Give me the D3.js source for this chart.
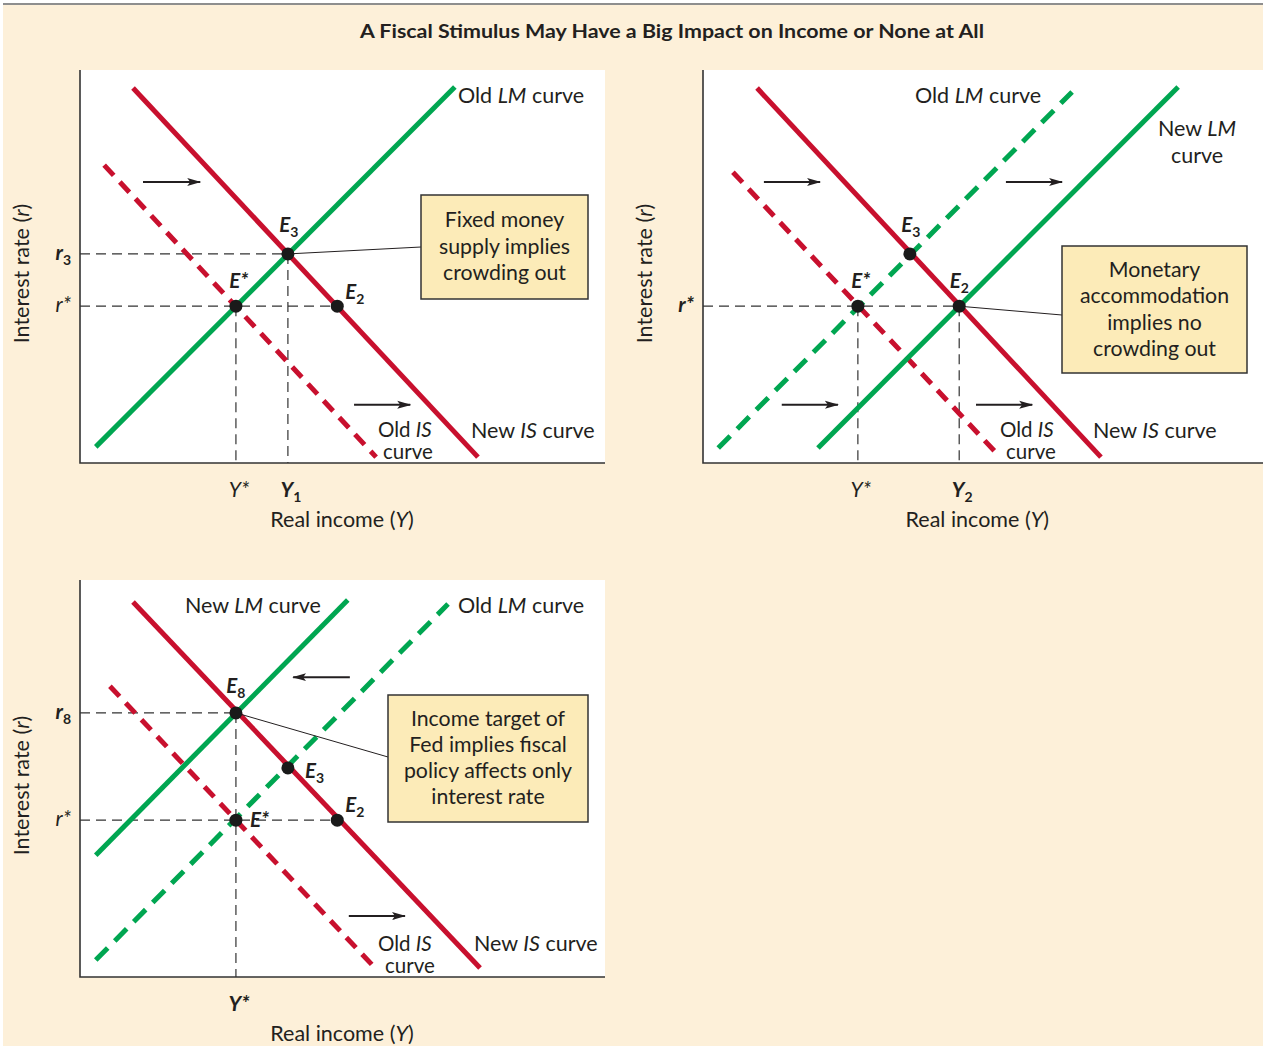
<!DOCTYPE html>
<html><head><meta charset="utf-8">
<script src="https://cdn.jsdelivr.net/npm/d3@7"></script>
<style>body{margin:0;background:#fff}text{font-family:Lato,"Open Sans",sans-serif;fill:#231f20}</style>
</head><body><svg id="c" width="1263" height="1046"></svg>
<script>
// ---------- DATA (chart units: income on x, interest rate on y) ----------
// Panel 1: fixed money supply
const p1OldIS = [[4.6, 75.8], [56.4, 1.5]];
const p1NewIS = [[10.1, 95.4], [75.8, 1.5]];
const p1OldLM = [[3.0, 4.1], [71.4, 95.7]];
const p1PointNames = ["E*", "E3", "E2"];
const p1PointX = [29.7, 39.6, 49.0];
const p1PointY = [39.9, 53.2, 39.9];
const p1RTickNames = ["r3", "r*"];
const p1RTickVals = [53.2, 39.9];
const p1YTickNames = ["Y*", "Y1"];
const p1YTickVals = [29.7, 39.6];
const p1Arrows = [[12.0, 71.5, 22.9, 71.5], [52.2, 14.8, 62.9, 14.8]];

// Panel 2: monetary accommodation
const p2OldIS = [[5.7, 74.0], [56.6, 1.5]];
const p2NewIS = [[10.3, 95.4], [75.8, 1.5]];
const p2OldLM = [[2.9, 3.8], [70.3, 94.4]];
const p2NewLM = [[21.9, 3.8], [90.5, 95.7]];
const p2PointNames = ["E*", "E3", "E2"];
const p2PointX = [29.5, 39.4, 48.8];
const p2PointY = [39.9, 53.2, 39.9];
const p2RTickNames = ["r*"];
const p2RTickVals = [39.9];
const p2YTickNames = ["Y*", "Y2"];
const p2YTickVals = [29.5, 48.8];
const p2Arrows = [[11.6, 71.5, 22.3, 71.5], [57.7, 71.5, 68.4, 71.5], [15.0, 14.8, 25.7, 14.8], [52.0, 14.8, 62.7, 14.8]];

// Panel 3: income target
const p3OldIS = [[5.7, 74.0], [56.2, 2.3]];
const p3NewIS = [[10.1, 95.4], [76.2, 2.3]];
const p3NewLM = [[3.0, 31.0], [51.0, 95.9]];
const p3OldLM = [[3.0, 4.3], [70.1, 94.9]];
const p3PointNames = ["E8", "E3", "E*", "E2"];
const p3PointX = [29.7, 39.6, 29.7, 49.0];
const p3PointY = [67.2, 53.2, 39.9, 39.9];
const p3RTickNames = ["r8", "r*"];
const p3RTickVals = [67.2, 39.9];
const p3YTickNames = ["Y*"];
const p3YTickVals = [29.7];
const p3Arrows = [[51.4, 76.3, 40.6, 76.3], [51.2, 15.5, 61.9, 15.5]];

// ---------- DRAWING ----------
const RED = "#c8102e", GREEN = "#00a651";
const svg = d3.select("#c");
svg.append("rect").attr("x", 3).attr("y", 4).attr("width", 1260).attr("height", 1042).attr("fill", "#fdf0d9");
svg.append("line").attr("x1", 3).attr("x2", 1263).attr("y1", 4).attr("y2", 4).attr("stroke", "#8e8e8e").attr("stroke-width", 2);
svg.append("text").attr("x", 672).attr("y", 38).attr("text-anchor", "middle")
  .attr("font-size", 19).attr("font-weight", "bold")
  .attr("textLength", 624).attr("lengthAdjust", "spacingAndGlyphs")
  .text("A Fiscal Stimulus May Have a Big Impact on Income or None at All");

const defs = svg.append("defs");
defs.append("marker").attr("id", "arr").attr("viewBox", "0 0 14 10").attr("refX", 13).attr("refY", 5)
  .attr("markerWidth", 14).attr("markerHeight", 10).attr("markerUnits", "userSpaceOnUse").attr("orient", "auto")
  .append("path").attr("d", "M0,1 L14,5 L0,9 L3,5 Z").attr("fill", "#231f20");

function rich(g, x, y, parts, anchor, size) {
  const t = g.append("text").attr("x", x).attr("y", y).attr("text-anchor", anchor || "start").attr("font-size", size || 20);
  let shift = 0;
  parts.forEach(p => {
    const ts = t.append("tspan").text(p.t);
    if (p.i) ts.attr("font-style", "italic");
    if (p.b) ts.attr("font-weight", "bold");
    if (p.s) ts.attr("font-size", p.s);
    const want = p.sub ? 5 : 0;
    if (want !== shift) { ts.attr("dy", want - shift); shift = want; }
  });
  return t;
}
function symParts(name, bold, italic) {
  const main = name[0], rest = name.slice(1);
  const parts = [{ t: main, i: italic, b: bold }];
  if (rest === "*") parts.push({ t: "*", i: italic, b: bold });
  else parts.push({ t: rest, b: bold, sub: true, s: 14 });
  return parts;
}

function panel(cfg, d) {
  const x = d3.scaleLinear().domain([0, cfg.w / 5.25]).range([cfg.ox, cfg.ox + cfg.w]);
  const y = d3.scaleLinear().domain([0, cfg.h / 3.93]).range([cfg.oy, cfg.oy - cfg.h]);
  const g = svg.append("g");
  g.append("rect").attr("x", x(0)).attr("y", y.range()[1]).attr("width", cfg.w).attr("height", cfg.h).attr("fill", "#fff");
  const pts = d.names.map((n, i) => ({ n, x: d.px[i], y: d.py[i] }));
  // guides
  const gd = g.append("g").attr("stroke", "#333").attr("stroke-width", 1.2).attr("stroke-dasharray", "10 6").attr("fill", "none");
  d.rVals.forEach(v => {
    const xe = d3.max(pts.filter(p => p.y === v), p => p.x);
    gd.append("line").attr("x1", x(0)).attr("x2", x(xe)).attr("y1", y(v)).attr("y2", y(v));
  });
  d.yVals.forEach(v => {
    const ye = d3.max(pts.filter(p => p.x === v), p => p.y);
    gd.append("line").attr("x1", x(v)).attr("x2", x(v)).attr("y1", y(ye)).attr("y2", y(0));
  });
  // curves
  const line = d3.line().x(p => x(p[0])).y(p => y(p[1]));
  d.curves.forEach(c => {
    g.append("path").attr("d", line(c.pts)).attr("fill", "none").attr("stroke", c.color)
      .attr("stroke-width", 5).attr("stroke-dasharray", c.dashed ? (c.color === RED ? "14 9" : "17 10") : null);
  });
  // axes
  g.append("path").attr("d", `M${x(0)},${y.range()[1]}V${y(0)}H${x.range()[1]}`).attr("fill", "none").attr("stroke", "#333").attr("stroke-width", 1.6);
  // arrows
  d.arrows.forEach(a => {
    g.append("line").attr("x1", x(a[0])).attr("y1", y(a[1])).attr("x2", x(a[2])).attr("y2", y(a[3]))
      .attr("stroke", "#231f20").attr("stroke-width", 2).attr("marker-end", "url(#arr)");
  });
  // leader + box
  const lp = pts.find(p => p.n === d.leaderFrom);
  g.append("line").attr("x1", x(lp.x)).attr("y1", y(lp.y)).attr("x2", d.leaderTo[0]).attr("y2", d.leaderTo[1]).attr("stroke", "#231f20").attr("stroke-width", 1);
  const b = d.box;
  g.append("rect").attr("x", b[0]).attr("y", b[1]).attr("width", b[2]).attr("height", b[3]).attr("fill", "#fcebb8").attr("stroke", "#333").attr("stroke-width", 1.5);
  d.boxLines.forEach((t, i) => g.append("text").attr("x", b[0] + b[2] / 2).attr("y", d.boxBase + i * d.boxStep).attr("text-anchor", "middle").attr("font-size", 21.3).text(t));
  // points
  pts.forEach((p, i) => {
    g.append("circle").attr("cx", x(p.x)).attr("cy", y(p.y)).attr("r", 6.5).attr("fill", "#1a1a1a");
    const o = d.labelOff[i];
    rich(g, x(p.x) + o[0], y(p.y) + o[1], symParts(p.n, true, true), o[2], 20.5);
  });
  // tick labels
  d.rNames.forEach((n, i) => rich(g, x(0) - 9, y(d.rVals[i]) + 6, symParts(n, d.rBold[i], true), "end", 21));
  d.yNames.forEach((n, i) => rich(g, x(d.yVals[i]) + 3, cfg.oy + 34, symParts(n, d.yBold[i], true), "middle", 21));
  // axis titles
  rich(g, cfg.ox + 262 + (cfg.w - 525) / 2 * 0.7, cfg.oy + 64, [{ t: "Real income (" }, { t: "Y", i: 1 }, { t: ")" }], "middle", 21.5);
  const at = rich(g, 0, 0, [{ t: "Interest rate (" }, { t: "r", i: 1 }, { t: ")" }], "middle", 21.5);
  at.attr("transform", `translate(${cfg.ox - 51},${cfg.oy - cfg.h * 0.5 + 7}) rotate(-90)`);
  // curve labels
  d.texts.forEach(t => rich(g, t[0], t[1], t[2], t[3] || "start", t[4] || 21.5));
  return g;
}

const LM = (a, b) => [{ t: a }, { t: "LM", i: 1 }, { t: b }];
const IS = (a, b) => [{ t: a }, { t: "IS", i: 1 }, { t: b }];

panel({ ox: 80, oy: 463, w: 525, h: 393 }, {
  curves: [{ pts: p1OldIS, color: RED, dashed: true }, { pts: p1NewIS, color: RED }, { pts: p1OldLM, color: GREEN }],
  names: p1PointNames, px: p1PointX, py: p1PointY,
  labelOff: [[3, -18, "middle"], [1, -22, "middle"], [8, -7, "start"]],
  rNames: p1RTickNames, rVals: p1RTickVals, rBold: [true, false],
  yNames: p1YTickNames, yVals: p1YTickVals, yBold: [false, true],
  arrows: p1Arrows, leaderFrom: "E3", leaderTo: [421, 247],
  box: [421, 195, 167, 104], boxLines: ["Fixed money", "supply implies", "crowding out"], boxBase: 227, boxStep: 26.5,
  texts: [[458, 103, LM("Old ", " curve")], [471, 438, IS("New ", " curve")], [378, 437, IS("Old ", ""), "start", 20.5], [383, 459, [{ t: "curve" }], "start", 20.5]]
});

panel({ ox: 703, oy: 463, w: 560, h: 393 }, {
  curves: [{ pts: p2OldIS, color: RED, dashed: true }, { pts: p2NewIS, color: RED }, { pts: p2OldLM, color: GREEN, dashed: true }, { pts: p2NewLM, color: GREEN }],
  names: p2PointNames, px: p2PointX, py: p2PointY,
  labelOff: [[3, -18, "middle"], [1, -22, "middle"], [0, -18, "middle"]],
  rNames: p2RTickNames, rVals: p2RTickVals, rBold: [true],
  yNames: p2YTickNames, yVals: p2YTickVals, yBold: [false, true],
  arrows: p2Arrows, leaderFrom: "E2", leaderTo: [1062, 315],
  box: [1062, 246, 185, 127], boxLines: ["Monetary", "accommodation", "implies no", "crowding out"], boxBase: 277, boxStep: 26.3,
  texts: [[915, 103, LM("Old ", " curve")], [1197, 136, LM("New ", ""), "middle"], [1197, 163, [{ t: "curve" }], "middle"],
    [1093, 438, IS("New ", " curve")], [1000, 437, IS("Old ", ""), "start", 20.5], [1006, 459, [{ t: "curve" }], "start", 20.5]]
});

panel({ ox: 80, oy: 977, w: 525, h: 397 }, {
  curves: [{ pts: p3OldIS, color: RED, dashed: true }, { pts: p3NewIS, color: RED }, { pts: p3OldLM, color: GREEN, dashed: true }, { pts: p3NewLM, color: GREEN }],
  names: p3PointNames, px: p3PointX, py: p3PointY,
  labelOff: [[0, -20, "middle"], [17, 10, "start"], [14, 7, "start"], [8, -8, "start"]],
  rNames: p3RTickNames, rVals: p3RTickVals, rBold: [true, false],
  yNames: p3YTickNames, yVals: p3YTickVals, yBold: [true],
  arrows: p3Arrows, leaderFrom: "E8", leaderTo: [388, 757],
  box: [388, 695, 200, 127], boxLines: ["Income target of", "Fed implies fiscal", "policy affects only", "interest rate"], boxBase: 726, boxStep: 26,
  texts: [[185, 613, LM("New ", " curve")], [458, 613, LM("Old ", " curve")], [474, 951, IS("New ", " curve")], [378, 951, IS("Old ", ""), "start", 20.5], [385, 973, [{ t: "curve" }], "start", 20.5]]
});
</script></body></html>
